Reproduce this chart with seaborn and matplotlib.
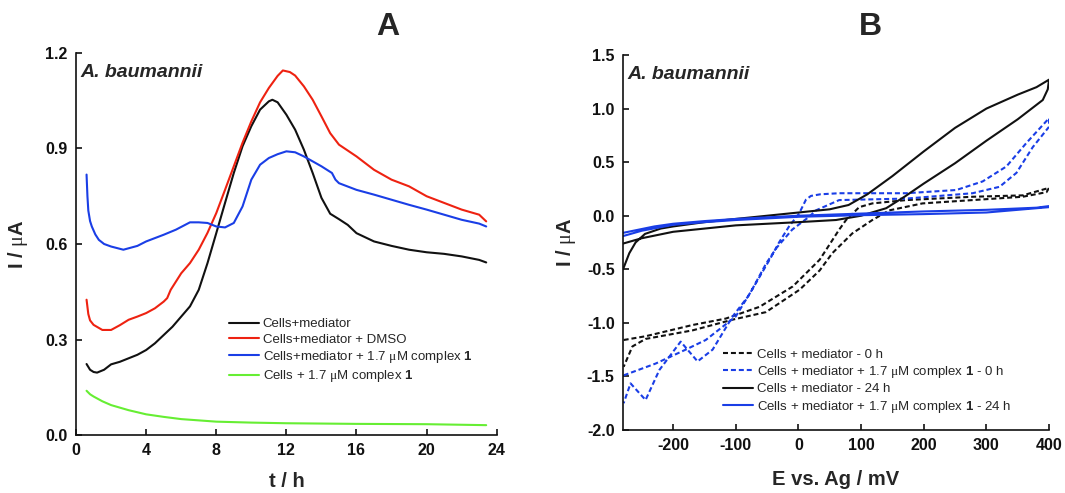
import numpy as np
import pandas as pd
import matplotlib
matplotlib.use("Agg")
import matplotlib.pyplot as plt
import seaborn as sns

sns.set_theme(style="ticks")
plt.rcParams['font.family'] = ['Liberation Sans', 'DejaVu Sans']
plt.rcParams['mathtext.fontset'] = 'custom'
plt.rcParams['mathtext.rm'] = 'Liberation Serif'
plt.rcParams['mathtext.it'] = 'Liberation Serif:italic'
plt.rcParams['mathtext.bf'] = 'Liberation Sans:bold'

# ---------------- Panel A data (t / h, I / uA) ----------------
t_black = [0.6, 0.8, 1.0, 1.2, 1.6, 2, 2.5, 3, 3.5, 4, 4.5, 5, 5.5, 6, 6.5, 7, 7.5, 8, 8.5, 9,
           9.5, 10, 10.5, 11, 11.2, 11.5, 12, 12.5, 13, 13.5, 14, 14.5, 15, 15.5, 16, 17, 18,
           19, 20, 21, 22, 23, 23.4]
i_black = [0.223, 0.205, 0.198, 0.196, 0.205, 0.222, 0.230, 0.241, 0.252, 0.267, 0.288, 0.314,
           0.340, 0.372, 0.404, 0.456, 0.54, 0.634, 0.729, 0.823, 0.907, 0.970, 1.022, 1.048,
           1.053, 1.045, 1.006, 0.959, 0.896, 0.823, 0.745, 0.695, 0.678, 0.660, 0.634, 0.608,
           0.594, 0.582, 0.574, 0.569, 0.561, 0.550, 0.542]

t_red = [0.6, 0.7, 0.8, 1.0, 1.5, 2, 2.5, 3, 3.5, 4, 4.5, 5, 5.2, 5.4, 6, 6.5, 7, 7.5, 8, 8.5, 9,
         9.5, 10, 10.5, 11, 11.5, 11.8, 12.2, 12.5, 13, 13.5, 14, 14.5, 15, 16, 17, 18, 19,
         20, 21, 22, 23, 23.4]
i_red = [0.425, 0.38, 0.36, 0.346, 0.33, 0.33, 0.345, 0.362, 0.372, 0.383, 0.398, 0.419,
         0.430, 0.456, 0.508, 0.540, 0.582, 0.635, 0.697, 0.770, 0.844, 0.918, 0.985, 1.045,
         1.090, 1.128, 1.145, 1.140, 1.129, 1.095, 1.053, 1.001, 0.948, 0.912, 0.875, 0.833,
         0.802, 0.781, 0.750, 0.729, 0.708, 0.692, 0.671]

t_blue = [0.6, 0.65, 0.7, 0.8, 0.9, 1.1, 1.3, 1.6, 2, 2.7, 3.5, 4, 5, 5.7, 6.5, 7, 7.5, 8, 8.5,
          9, 9.5, 10, 10.5, 11, 11.5, 12, 12.5, 13, 14, 14.6, 14.8, 15, 16, 17, 18, 19, 20,
          21, 22, 23, 23.4]
i_blue = [0.818, 0.75, 0.705, 0.672, 0.655, 0.630, 0.613, 0.600, 0.592, 0.582, 0.594, 0.608,
          0.629, 0.645, 0.668, 0.668, 0.666, 0.655, 0.652, 0.666, 0.718, 0.802, 0.849, 0.870,
          0.882, 0.891, 0.888, 0.875, 0.844, 0.823, 0.802, 0.791, 0.770, 0.755, 0.739, 0.723,
          0.708, 0.692, 0.676, 0.664, 0.655]

t_green = [0.6, 0.8, 1, 1.5, 2, 3, 4, 5, 6, 8, 10, 12, 16, 20, 23.4]
i_green = [0.139, 0.128, 0.121, 0.106, 0.094, 0.078, 0.065, 0.057, 0.050, 0.042, 0.039, 0.037,
           0.035, 0.034, 0.031]

labels_A = ["Cells+mediator",
            "Cells+mediator + DMSO",
            r"Cells+mediator + 1.7 $\mathrm{\mu}$M complex $\mathbf{1}$",
            r"Cells + 1.7 $\mathrm{\mu}$M complex $\mathbf{1}$"]
colors_A = ["#111111", "#ee2211", "#1a3ee6", "#66ee33"]

# ---------------- Panel B data (E / mV, I / uA), cyclic loops ----------------
E_dash_black = [-279, -244, -169, -116, -62, -9, 34, 65, 76, 97, 118, 172, 278, 358, 400,
                396, 358, 278, 198, 145, 118, 86, 54, 34, 2, -52, -105, -169, -244, -265, -279]
I_dash_black = [-1.16, -1.125, -1.02, -0.96, -0.85, -0.66, -0.41, -0.13, -0.04, 0.08, 0.115,
                0.146, 0.177, 0.19, 0.26, 0.22, 0.177, 0.146, 0.115, 0.05, -0.04, -0.165, -0.35,
                -0.51, -0.69, -0.90, -0.97, -1.07, -1.15, -1.22, -1.41]

E_dash_blue = [-279, -228, -180, -148, -100, -75, -52, -35, -10, 17, 28, 65, 172, 278, 321,
               348, 374, 400, 400, 364, 332, 294, 252, 172, 65, 35, 20, 12, 1, -15, -31, -45,
               -60, -80, -105, -137, -161, -188, -222, -244, -268, -279]
I_dash_blue = [-1.49, -1.38, -1.25, -1.16, -0.94, -0.70, -0.45, -0.30, -0.13, -0.01, 0.05,
               0.146, 0.16, 0.21, 0.27, 0.40, 0.64, 0.83, 0.91, 0.68, 0.46, 0.32, 0.24, 0.21,
               0.21, 0.20, 0.185, 0.15, 0.02, -0.10, -0.25, -0.40, -0.55, -0.75, -0.94, -1.25,
               -1.36, -1.175, -1.44, -1.72, -1.565, -1.75]

E_solid_black = [-280, -270, -260, -245, -220, -200, -150, -100, -50, 0, 50, 80, 110, 150, 200,
                 250, 300, 350, 380, 400, 398, 390, 350, 300, 250, 200, 170, 140, 100, 60, 0,
                 -100, -200, -250, -280]
I_solid_black = [-0.50, -0.35, -0.25, -0.17, -0.12, -0.10, -0.06, -0.03, 0.0, 0.03, 0.06, 0.10,
                 0.20, 0.37, 0.60, 0.82, 1.00, 1.13, 1.20, 1.27, 1.18, 1.08, 0.90, 0.70, 0.49,
                 0.30, 0.18, 0.07, 0.0, -0.04, -0.06, -0.09, -0.15, -0.21, -0.26]

E_solid_blue = [-280, -230, -200, -150, -100, 0, 100, 200, 300, 380, 400,
                400, 300, 200, 100, 0, -100, -150, -200, -250, -280]
I_solid_blue = [-0.16, -0.10, -0.075, -0.05, -0.03, 0.0, 0.02, 0.04, 0.055, 0.075, 0.09,
                0.08, 0.03, 0.015, 0.005, -0.01, -0.04, -0.06, -0.085, -0.14, -0.19]

labels_B = ["Cells + mediator - 0 h",
            r"Cells + mediator + 1.7 $\mathrm{\mu}$M complex $\mathbf{1}$ - 0 h",
            "Cells + mediator - 24 h",
            r"Cells + mediator + 1.7 $\mathrm{\mu}$M complex $\mathbf{1}$ - 24 h"]
colors_B = ["#111111", "#1a3ee6", "#111111", "#1a3ee6"]

fig = plt.figure(figsize=(10.65, 4.93), dpi=100)
axA = fig.add_axes([0.0714, 0.1176, 0.395, 0.775])
axB = fig.add_axes([0.585, 0.1278, 0.400, 0.7606])

lw = 1.5
for t, v, c, lab in zip([t_black, t_red, t_blue, t_green],
                        [i_black, i_red, i_blue, i_green], colors_A, labels_A):
    sns.lineplot(x=t, y=v, ax=axA, color=c, lw=lw, label=lab, sort=False, estimator=None)

dash = (0, (2.4, 1.4))
series_B = [(E_dash_black, I_dash_black, dash), (E_dash_blue, I_dash_blue, dash),
            (E_solid_black, I_solid_black, '-'), (E_solid_blue, I_solid_blue, '-')]
for (E, I, ls), c, lab in zip(series_B, colors_B, labels_B):
    sns.lineplot(x=E, y=I, ax=axB, color=c, lw=lw, label=lab, sort=False,
                 estimator=None, linestyle=ls)

tick_font = dict(fontsize=11.5, fontweight='bold')
for ax in (axA, axB):
    sns.despine(ax=ax)
    ax.tick_params(direction='in', length=4.5, width=1.2, colors='#111111', pad=6)
    for s in ('left', 'bottom'):
        ax.spines[s].set_linewidth(1.2)
        ax.spines[s].set_color('#111111')

axA.set_xlim(0, 24)
axA.set_ylim(0, 1.2)
axA.set_xticks(np.arange(0, 25, 4))
axA.set_yticks(np.arange(0, 1.21, 0.3))
axA.set_xticklabels([f"{v:d}" for v in range(0, 25, 4)], **tick_font)
axA.set_yticklabels([f"{v:.1f}" for v in np.arange(0, 1.21, 0.3)], **tick_font)
axA.set_xlabel("t / h", fontsize=14.5, fontweight='bold', labelpad=10)
axA.set_ylabel(r"I / $\mathrm{\mu}$A", fontsize=14.5, fontweight='bold', labelpad=11)

axB.set_xlim(-280, 400)
axB.set_ylim(-2.0, 1.5)
axB.set_xticks(np.arange(-200, 401, 100))
axB.set_yticks(np.arange(-2.0, 1.51, 0.5))
axB.set_xticklabels([f"{v:d}" for v in range(-200, 401, 100)], **tick_font)
axB.set_yticklabels([f"{v:.1f}" for v in np.arange(-2.0, 1.51, 0.5)], **tick_font)
axB.set_xlabel("E vs. Ag / mV", fontsize=14.5, fontweight='bold', labelpad=12)
axB.set_ylabel(r"I / $\mathrm{\mu}$A", fontsize=14.5, fontweight='bold', labelpad=6)

for ax in (axA, axB):
    ax.text(0.01, 0.97, "A. baumannii", transform=ax.transAxes, fontsize=14,
            fontweight='bold', fontstyle='italic', va='top', ha='left')

legA = axA.legend(loc='upper left', bbox_to_anchor=(0.35, 0.32), frameon=False,
                  fontsize=9.5, handlelength=2.3, handletextpad=0.3, labelspacing=0.25,
                  borderaxespad=0)
legB = axB.legend(loc='upper left', bbox_to_anchor=(0.222, 0.232), frameon=False,
                  fontsize=9.5, handlelength=2.3, handletextpad=0.3, labelspacing=0.25,
                  borderaxespad=0)

fig.text(388 / 1065, 1 - 27 / 493, "A", fontsize=23, fontweight='bold', ha='center', va='center')
fig.text(870 / 1065, 1 - 27 / 493, "B", fontsize=23, fontweight='bold', ha='center', va='center')

fig.savefig("out.png", dpi=100, facecolor='white')
